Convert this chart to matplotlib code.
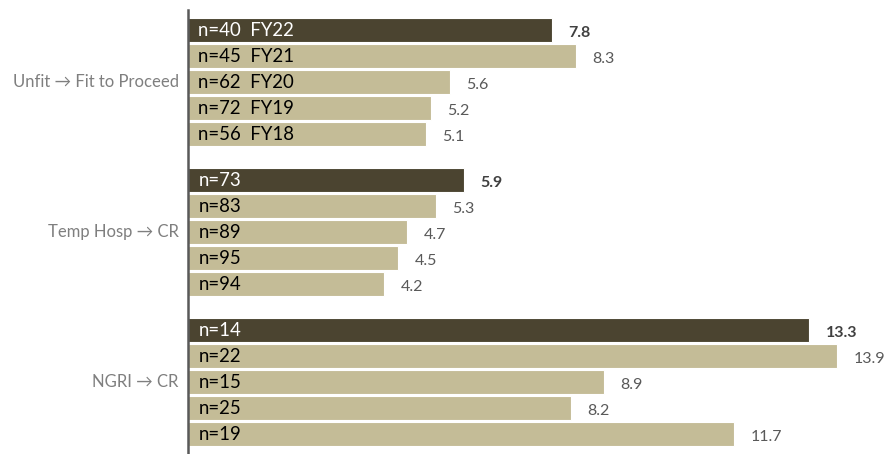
import matplotlib.pyplot as plt
import numpy as np

plt.rcParams["font.family"] = ["Lato", "DejaVu Sans"]

groups = ["Unfit \u2192 Fit to Proceed", "Temp Hosp \u2192 CR", "NGRI \u2192 CR"]
years = ["FY22", "FY21", "FY20", "FY19", "FY18"]
counts = [
    [40, 45, 62, 72, 56],
    [73, 83, 89, 95, 94],
    [14, 22, 15, 25, 19],
]
values = [
    [7.8, 8.3, 5.6, 5.2, 5.1],
    [5.9, 5.3, 4.7, 4.5, 4.2],
    [13.3, 13.9, 8.9, 8.2, 11.7],
]

DARK = "#4b4430"
LIGHT = "#c4bc97"
GROUP_STEP = 5.77

fig = plt.figure(figsize=(8.86, 4.54), dpi=100)
ax = fig.add_axes([188 / 886, 0, 698 / 886, 444 / 454])

for g, (group, ns, vals) in enumerate(zip(groups, counts, values)):
    ys = g * GROUP_STEP + np.arange(len(vals))
    colors = [DARK] + [LIGHT] * (len(vals) - 1)
    ax.barh(ys, vals, height=0.93, color=colors, edgecolor="white", linewidth=0.8)
    for i, (y, n, v) in enumerate(zip(ys, ns, vals)):
        label = f"n={n}  {years[i]}" if g == 0 else f"n={n}"
        ax.text(0.22, y + 0.03, label, va="center", ha="left", fontsize=13.4,
                color="white" if i == 0 else "black")
        ax.text(v + 0.35, y + 0.12, f"{v:.1f}", va="center", ha="left", fontsize=11.5,
                color="#404040" if i == 0 else "#595959",
                fontweight="bold" if i == 0 else "normal")
    ax.text(-0.2, ys[2], group, va="center", ha="right", fontsize=12, color="#7f7f7f")

ax.set_xlim(0, 698 / 46.7)
ax.set_ylim(16.31, -0.77)
ax.set_xticks([])
ax.set_yticks([])
for side in ["top", "right", "bottom"]:
    ax.spines[side].set_visible(False)
ax.spines["left"].set_color("#595959")
ax.spines["left"].set_linewidth(1.8)

fig.savefig("out.png", dpi=100)
